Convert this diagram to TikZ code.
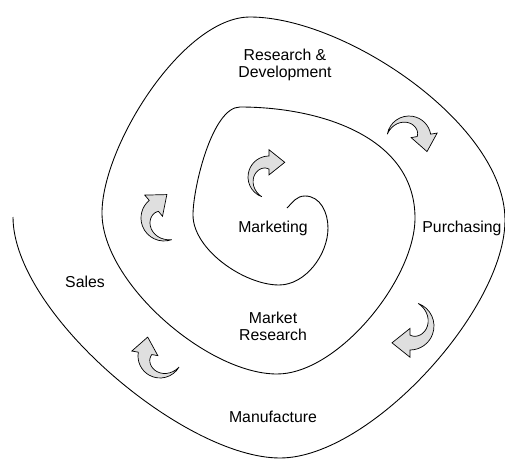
\documentclass[tikz,border=0pt]{standalone}
\usepackage{fontspec}
\setmainfont{Liberation Sans}
\usetikzlibrary{calc}

\begin{document}
\begin{tikzpicture}[x=0.02cm, y=-0.02cm,
        every node/.style={font=\fontsize{9}{9.8}\selectfont, align=center},
        swirl/.pic={
            \draw[line width=0.4pt, fill=gray!25] (160:20) arc[start angle=160, end angle=320, radius=20]
                -- (320:26) -- ($(320:14)+(50:15)$) -- (320:2) -- (320:7.5)
                -- plot[domain=320:160, samples=17, smooth] (\x:{20-12.5*(\x-160)/160}) -- cycle;
        }]
        \useasboundingbox (0,0) rectangle (505,460);

        % the spiral, from the centre outwards
        \draw[line width=0.5pt] (287,208) to[out=45, in=180] (305,196)
            to[out=0, in=90, looseness=1] (328,228)
            to[out=-90, in=0, looseness=0.9] (279,285)
            to[out=180, in=-90, looseness=0.8] (193,215)
            to[out=90, in=180, looseness=0.6] (240,107)
            to[out=0, in=90, looseness=1] (415,218)
            to[out=-90, in=0, looseness=0.75] (277,374)
            to[out=180, in=-90, looseness=0.75] (102,213)
            to[out=90, in=180, looseness=0.7] (250,17)
            to[out=0, in=90, looseness=0.75] (505,220)
            to[out=-90, in=0, looseness=0.7] (280,458)
            to[out=180, in=-90, looseness=0.68] (13,217);

        \node (rd) at (285,65) {Research \&\\Development};
        \node (purchasing) at (462,228) {Purchasing};
        \node (marketing) at (273,228) {Marketing};
        \node (sales) at (85,282) {Sales};
        \node (mr) at (273,326) {Market\\Research};
        \node (manufacture) at (273,417) {Manufacture};

        \pic[rotate=-30, scale=1.1] (toPur) at (409,138) {swirl};
        \pic[rotate=-130, scale=1.2] (toMan) at (410,326) {swirl};
        \pic[rotate=130, scale=1.1] (toSal) at (160,356) {swirl};
        \pic[rotate=90, scale=1.15] (toRD) at (164,218) {swirl};
        \pic[rotate=50, scale=1.05] (toMar) at (269,177) {swirl};

\end{tikzpicture}
\end{document}
